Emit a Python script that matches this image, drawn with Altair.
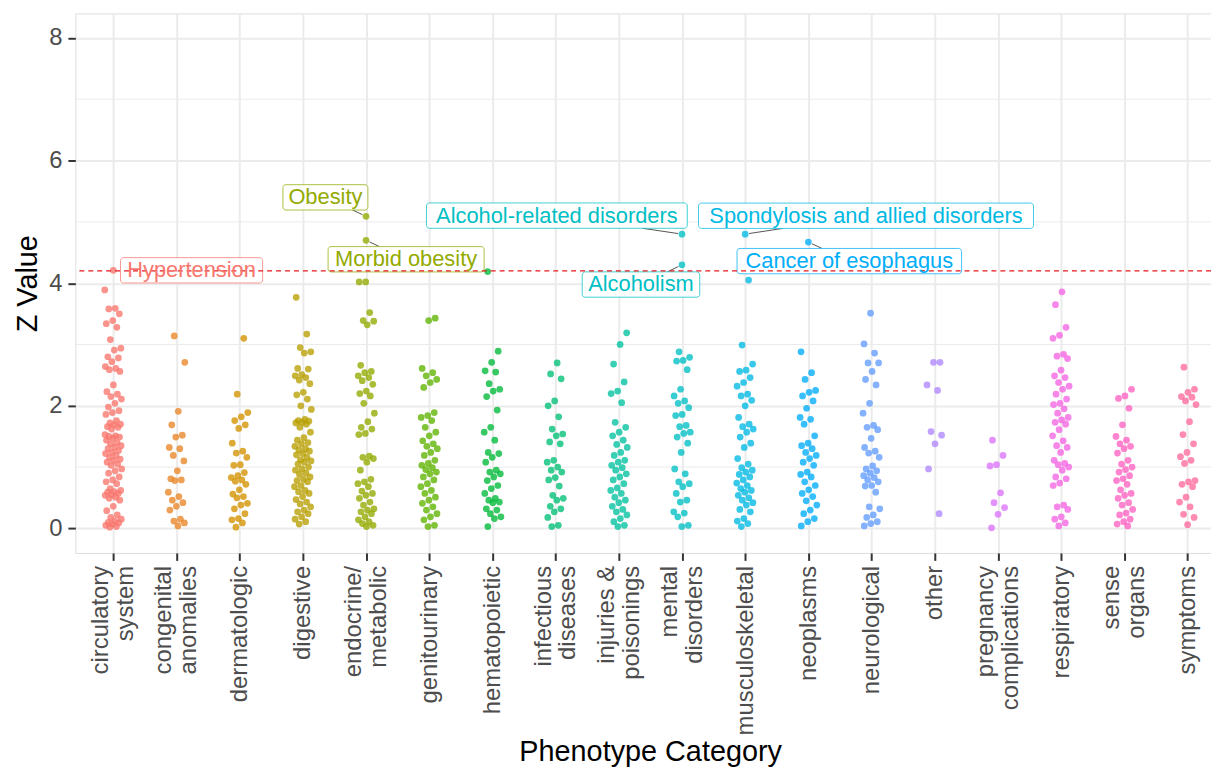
import math
import pandas as pd
import altair as alt

# ---------------- data ----------------
categories = [
    "circulatory\nsystem", "congenital\nanomalies", "dermatologic", "digestive",
    "endocrine/\nmetabolic", "genitourinary", "hematopoietic", "infectious\ndiseases",
    "injuries &\npoisonings", "mental\ndisorders", "musculoskeletal", "neoplasms",
    "neurological", "other", "pregnancy\ncomplications", "respiratory",
    "sense\norgans", "symptoms",
]

circulatory = [3.89, 3.59, 3.58, 3.50, 3.39, 3.34, 3.28, 3.08, 2.94, 2.91, 2.80, 2.78, 2.72, 2.64, 2.61,
               2.59, 2.56, 2.34, 2.23, 2.19, 2.15, 2.11, 2.04, 1.98, 1.92, 1.89, 1.86, 1.76, 1.72, 1.70,
               1.69, 1.66, 1.65, 1.62, 1.53, 1.51, 1.50, 1.49, 1.47, 1.44, 1.40, 1.38, 1.35, 1.32, 1.30,
               1.27, 1.24, 1.22, 1.19, 1.16, 1.13, 1.11, 1.08, 1.05, 1.03, 0.97, 0.94, 0.90, 0.84, 0.79,
               0.76, 0.73, 0.65, 0.62, 0.60, 0.59, 0.57, 0.55, 0.54, 0.51, 0.49, 0.46, 0.36, 0.29, 0.22,
               0.18, 0.15, 0.12, 0.10, 0.09, 0.07, 0.05, 0.03, 0.02]
congenital = [3.14, 2.71, 1.91, 1.69, 1.52, 1.49, 1.32, 1.30, 1.19, 1.10, 0.94, 0.81, 0.79, 0.78, 0.59,
              0.52, 0.46, 0.42, 0.36, 0.30, 0.15, 0.12, 0.09, 0.04]
dermatologic = [3.10, 2.19, 1.89, 1.82, 1.76, 1.69, 1.63, 1.39, 1.26, 1.23, 1.16, 1.04, 1.03, 0.91, 0.86,
                0.83, 0.79, 0.77, 0.72, 0.63, 0.56, 0.52, 0.50, 0.41, 0.38, 0.32, 0.24, 0.16, 0.14, 0.09,
                0.02]
digestive = [3.77, 3.17, 2.95, 2.88, 2.86, 2.61, 2.60, 2.51, 2.49, 2.46, 2.42, 2.36, 2.22, 2.18, 2.11,
             2.00, 1.94, 1.78, 1.76, 1.75, 1.73, 1.72, 1.70, 1.65, 1.57, 1.48, 1.44, 1.40, 1.38, 1.34,
             1.30, 1.28, 1.26, 1.22, 1.20, 1.16, 1.12, 1.10, 1.08, 1.05, 1.00, 0.97, 0.95, 0.90, 0.88,
             0.84, 0.80, 0.78, 0.76, 0.70, 0.68, 0.62, 0.60, 0.57, 0.52, 0.47, 0.43, 0.40, 0.35, 0.30,
             0.27, 0.24, 0.19, 0.15, 0.11, 0.07]
endocrine = [4.02, 4.02, 3.52, 3.39, 3.38, 3.32, 2.66, 2.56, 2.54, 2.49, 2.46, 2.41, 2.35, 2.24, 2.20,
             2.16, 2.04, 1.88, 1.74, 1.65, 1.62, 1.55, 1.53, 1.18, 1.16, 1.14, 1.08, 0.95, 0.80, 0.76,
             0.73, 0.68, 0.61, 0.57, 0.54, 0.49, 0.43, 0.38, 0.32, 0.30, 0.27, 0.24, 0.19, 0.14, 0.11,
             0.08, 0.05, 0.03]
genitourinary = [3.43, 3.39, 2.61, 2.54, 2.49, 2.43, 2.38, 2.30, 1.89, 1.84, 1.81, 1.76, 1.65, 1.57, 1.51,
                 1.43, 1.38, 1.34, 1.30, 1.24, 1.19, 1.11, 1.06, 1.03, 0.99, 0.96, 0.92, 0.89, 0.84, 0.79,
                 0.73, 0.68, 0.62, 0.57, 0.51, 0.46, 0.41, 0.35, 0.30, 0.24, 0.19, 0.14, 0.05, 0.03]
hematopoietic = [4.19, 2.89, 2.71, 2.57, 2.55, 2.36, 2.27, 2.24, 2.15, 1.93, 1.65, 1.57, 1.44, 1.24, 1.22,
                 1.16, 1.08, 0.95, 0.92, 0.89, 0.84, 0.78, 0.70, 0.65, 0.57, 0.49, 0.46, 0.43, 0.42, 0.32,
                 0.30, 0.24, 0.19, 0.16, 0.03]
infectious = [2.70, 2.52, 2.44, 2.08, 2.00, 1.82, 1.62, 1.54, 1.51, 1.41, 1.38, 1.11, 1.08, 1.00, 0.95,
              0.92, 0.83, 0.79, 0.69, 0.54, 0.49, 0.46, 0.36, 0.32, 0.27, 0.18, 0.05, 0.03]
injuries = [3.19, 3.00, 2.68, 2.39, 2.24, 2.20, 2.05, 1.73, 1.65, 1.57, 1.51, 1.44, 1.37, 1.32, 1.24,
            1.19, 1.11, 1.08, 1.03, 0.99, 0.95, 0.89, 0.84, 0.79, 0.73, 0.66, 0.62, 0.57, 0.51, 0.46,
            0.42, 0.36, 0.31, 0.27, 0.22, 0.16, 0.11, 0.05, 0.03]
mental = [2.88, 2.79, 2.74, 2.73, 2.59, 2.27, 2.16, 2.08, 2.04, 1.97, 1.86, 1.84, 1.68, 1.66, 1.57,
          1.55, 1.49, 1.39, 1.24, 0.97, 0.89, 0.76, 0.73, 0.68, 0.57, 0.46, 0.43, 0.27, 0.25, 0.19,
          0.05, 0.03]
musculoskeletal = [4.05, 2.99, 2.68, 2.58, 2.56, 2.46, 2.38, 2.32, 2.19, 2.16, 2.09, 2.00, 1.81, 1.70, 1.66,
                   1.62, 1.57, 1.49, 1.39, 1.32, 1.14, 1.05, 0.99, 0.95, 0.92, 0.88, 0.84, 0.79, 0.74, 0.70,
                   0.65, 0.62, 0.59, 0.54, 0.50, 0.46, 0.42, 0.38, 0.31, 0.27, 0.16, 0.12, 0.08, 0.03]
neoplasms = [2.88, 2.54, 2.43, 2.25, 2.22, 2.16, 2.08, 1.96, 1.81, 1.78, 1.70, 1.51, 1.39, 1.35, 1.30,
             1.24, 1.19, 1.14, 1.08, 1.03, 0.92, 0.88, 0.84, 0.76, 0.70, 0.63, 0.57, 0.52, 0.45, 0.38,
             0.30, 0.24, 0.16, 0.11, 0.04]
neurological = [3.51, 3.01, 2.86, 2.70, 2.70, 2.56, 2.43, 2.34, 2.04, 1.88, 1.68, 1.65, 1.61, 1.47, 1.32,
                1.26, 1.23, 1.16, 1.02, 0.97, 0.94, 0.90, 0.86, 0.83, 0.79, 0.76, 0.70, 0.69, 0.59, 0.35,
                0.32, 0.22, 0.18, 0.11, 0.08, 0.04]
other = [2.71, 2.71, 2.34, 2.25, 1.58, 1.52, 1.38, 0.97, 0.24]
pregnancy = [1.44, 1.19, 1.04, 1.02, 0.58, 0.42, 0.34, 0.23, 0.01]
respiratory = [3.86, 3.65, 3.28, 3.15, 3.10, 2.84, 2.81, 2.77, 2.58, 2.49, 2.46, 2.38, 2.32, 2.27, 2.19,
               2.11, 2.04, 2.02, 1.95, 1.88, 1.81, 1.77, 1.73, 1.70, 1.61, 1.51, 1.43, 1.35, 1.32, 1.24,
               1.11, 1.06, 1.04, 1.00, 0.95, 0.84, 0.81, 0.74, 0.70, 0.38, 0.35, 0.31, 0.19, 0.15, 0.09,
               0.04]
sense = [2.27, 2.16, 2.12, 1.96, 1.69, 1.50, 1.44, 1.38, 1.34, 1.30, 1.23, 1.11, 1.05, 1.00, 0.96,
         0.92, 0.86, 0.81, 0.78, 0.72, 0.63, 0.57, 0.54, 0.49, 0.42, 0.38, 0.31, 0.25, 0.22, 0.15,
         0.11, 0.07, 0.04]
symptoms = [2.63, 2.27, 2.22, 2.15, 2.14, 2.08, 2.02, 1.74, 1.53, 1.38, 1.24, 1.17, 1.11, 1.06, 0.78,
            0.76, 0.72, 0.68, 0.51, 0.43, 0.35, 0.23, 0.18, 0.06]

series = [circulatory, congenital, dermatologic, digestive, endocrine, genitourinary, hematopoietic,
          infectious, injuries, mental, musculoskeletal, neoplasms, neurological, other, pregnancy,
          respiratory, sense, symptoms]

# labelled phenotypes
hits_category = [0, 4, 4, 9, 9, 10, 11]
hits_z = [4.21, 5.09, 4.70, 4.80, 4.30, 4.80, 4.67]
hits_label = ["Hypertension", "Obesity", "Morbid obesity", "Alcohol-related disorders",
              "Alcoholism", "Spondylosis and allied disorders", "Cancer of esophagus"]

threshold = [4.2]
major_breaks = [0, 2, 4, 6, 8]
minor_breaks = [1, 3, 5, 7]

# ---------------- layout (annotation placement) ----------------
label_cx = [1.239, 3.357, 4.634, 7.020, 8.351, 11.912, 11.648]
label_cz = [4.21, 5.40, 4.39, 5.102, 3.978, 5.10, 4.36]
label_w_px = [143, 85.5, 157, 262.5, 118.3, 337.2, 226]
BOX_H = 25.5

W, H = 1143, 543
X0 = -0.6
PXX = 63.6
X1 = X0 + W / PXX
Y0, Y1 = -0.4, 8.4
PXY = H / (Y1 - Y0)

FONT = "Liberation Sans"
LINE_H = 25


def hcl_hex(h, c=100.0, l=65.0):
    XN, YN, ZN = 95.047, 100.0, 108.883
    hr = math.radians(h)
    U, V = c * math.cos(hr), c * math.sin(hr)
    Y = YN * ((l + 16) / 116) ** 3
    t = XN + 15 * YN + 3 * ZN
    un, vn = 4 * XN / t, 9 * YN / t
    u = U / (13 * l) + un
    v = V / (13 * l) + vn
    X = 9.0 * Y * u / (4 * v)
    Z = -X / 3 - 5 * Y + 3 * Y / v

    def g(x):
        x = x / YN
        x = 1.055 * x ** (1 / 2.4) - 0.055 if x > 0.0031308 else 12.92 * x
        return max(0, min(255, round(255 * x)))

    r = g(3.240479 * X - 1.537150 * Y - 0.498535 * Z)
    gg = g(-0.969256 * X + 1.875992 * Y + 0.041556 * Z)
    b = g(0.055648 * X - 0.204043 * Y + 1.057311 * Z)
    return "#%02X%02X%02X" % (r, gg, b)


n = len(categories)
palette = [hcl_hex(15 + 360 * i / n) for i in range(n)]
cat_keys = [c.replace("\n", " ") for c in categories]
two_line = [i for i, c in enumerate(categories) if "\n" in c]

# points with deterministic jitter
rows = []
for ci, vals in enumerate(series):
    for j, z in enumerate(vals):
        jit = (((j * 0.618034 + ci * 0.37) % 1.0) - 0.5) * 0.27
        rows.append({"cat": cat_keys[ci], "x": ci + jit, "z": z})
df_pts = pd.DataFrame(rows)

df_hits = pd.DataFrame({
    "cat": [cat_keys[c] for c in hits_category],
    "x": [float(c) for c in hits_category],
    "z": hits_z,
    "label": hits_label,
})

# label boxes and connector segments
box_rows, seg_rows = [], []
for i in range(len(hits_label)):
    cat = cat_keys[hits_category[i]]
    hw = label_w_px[i] / 2
    hh = BOX_H / 2
    box_rows.append({
        "cat": cat, "label": hits_label[i],
        "cx": label_cx[i], "cz": label_cz[i],
        "x": label_cx[i] - hw / PXX, "x2": label_cx[i] + hw / PXX,
        "y": label_cz[i] - hh / PXY, "y2": label_cz[i] + hh / PXY,
    })
    px, py = hits_category[i] * PXX, hits_z[i] * PXY
    cx, cy = label_cx[i] * PXX, label_cz[i] * PXY
    dx, dy = cx - px, cy - py
    dist = math.hypot(dx, dy)
    sx = hw / abs(dx) if dx else float("inf")
    sy = hh / abs(dy) if dy else float("inf")
    s = min(sx, sy)
    if s >= 1:
        continue
    t_end = 1 - s
    gap = 4.0
    if t_end * dist - gap < 6:
        continue
    t0 = gap / dist
    seg_rows.append({
        "x": (px + dx * t0) / PXX, "z": (py + dy * t0) / PXY,
        "x2": (px + dx * t_end) / PXX, "z2": (py + dy * t_end) / PXY,
    })
df_box = pd.DataFrame(box_rows)
df_seg = pd.DataFrame(seg_rows)

# ---------------- axes ----------------
label_arr = "[" + ",".join('"' + c.replace("\n", "|") + '"' for c in categories) + "]"
x_label_expr = "split(" + label_arr + "[datum.value], '|')"
two_line_test = "indexof([" + ",".join(str(i) for i in two_line) + "], datum.value) >= 0"

x_axis = alt.Axis(
    values=list(range(n)), labelExpr=x_label_expr, labelAngle=-90, labelAlign="right",
    labelBaseline="middle", labelFontSize=24, labelFont=FONT, labelColor="#4D4D4D",
    labelLineHeight=LINE_H, labelPadding=5, labelOverlap=False, labelFlush=False,
    labelOffset={"condition": {"test": two_line_test, "value": -LINE_H / 2}, "value": 0},
    tickSize=7.5, tickWidth=2, tickColor="#333333",
    grid=True, gridColor="#EBEBEB", gridWidth=2, domain=False,
    title="Phenotype Category", titleFont=FONT, titleFontSize=29, titleFontWeight="normal",
    titleColor="#000000", titleX=W / 2 + 7, titleY=209, titleAlign="center",
    titleBaseline="alphabetic", titleAnchor="middle",
)
y_axis = alt.Axis(
    values=major_breaks, labelFontSize=24, labelFont=FONT, labelColor="#4D4D4D",
    labelPadding=6, tickSize=7.5, tickWidth=2, tickColor="#333333",
    grid=True, gridColor="#EBEBEB", gridWidth=2, domain=False,
    title="Z Value", titleFont=FONT, titleFontSize=29, titleFontWeight="normal",
    titleColor="#000000", titleX=-39, titleY=H / 2, titleAngle=270, titleAlign="center",
    titleBaseline="alphabetic",
)

xs = alt.Scale(domain=[X0, X1], nice=False, zero=False)
ys = alt.Scale(domain=[Y0, Y1], nice=False, zero=False)
cs = alt.Scale(domain=cat_keys, range=palette)


def X(field="x"):
    return alt.X(f"{field}:Q", scale=xs, axis=x_axis)


def Y(field="z"):
    return alt.Y(f"{field}:Q", scale=ys, axis=y_axis)


minor = alt.Chart(pd.DataFrame({"z": minor_breaks})).mark_rule(
    color="#EBEBEB", strokeWidth=1
).encode(y=Y())

points = alt.Chart(df_pts).mark_circle(size=46, opacity=0.78).encode(
    x=X(), y=Y(), color=alt.Color("cat:N", scale=cs, legend=None)
)
hit_pts = alt.Chart(df_hits).mark_circle(size=46, opacity=0.78).encode(
    x=X(), y=Y(), color=alt.Color("cat:N", scale=cs, legend=None)
)
segs = alt.Chart(df_seg).mark_rule(color="#555555", strokeWidth=1).encode(
    x=X(), x2="x2:Q", y=Y(), y2="z2:Q"
)
boxes = alt.Chart(df_box).mark_rect(
    fill="white", fillOpacity=0.85, strokeWidth=1, strokeOpacity=0.75, cornerRadius=3
).encode(
    x=X(), x2="x2:Q", y=Y("y"), y2="y2:Q",
    stroke=alt.Color("cat:N", scale=cs, legend=None),
)
hline = alt.Chart(pd.DataFrame({"z": threshold})).mark_rule(
    color="#E41A1C", strokeDash=[5, 4], strokeWidth=1.3
).encode(y=Y())
texts = alt.Chart(df_box).mark_text(
    fontSize=22, font=FONT, align="center", baseline="middle"
).encode(
    x=X("cx"), y=Y("cz"), text="label:N",
    color=alt.Color("cat:N", scale=cs, legend=None),
)

chart = alt.layer(minor, points, hit_pts, segs, boxes, hline, texts).properties(
    width=W, height=H,
    padding={"left": 67.8, "top": 3, "right": 0, "bottom": 216},
    autosize=alt.AutoSizeParams(type="none"),
).configure_view(stroke="#333333", strokeWidth=1.3).configure(background="white")

chart.save("out.html", embed_options={"renderer": "svg", "actions": False})
